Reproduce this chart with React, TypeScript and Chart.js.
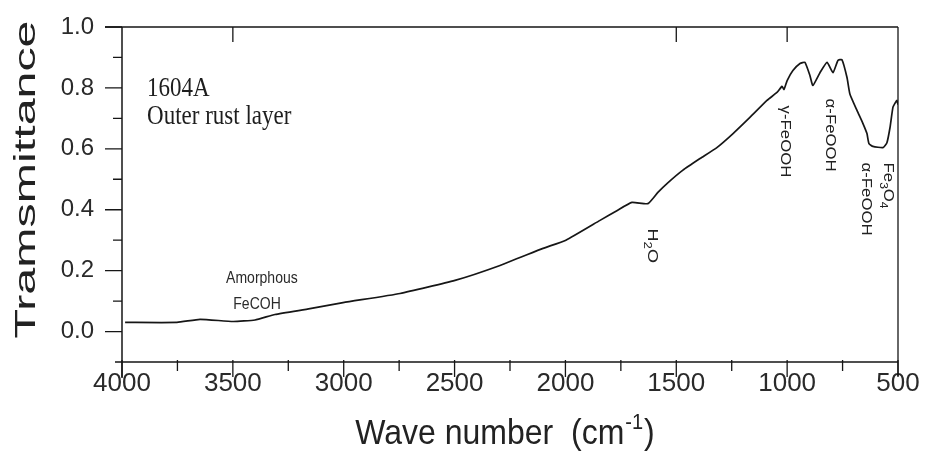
import React, { useEffect, useRef } from "react";
import { Chart, registerables } from "chart.js";

Chart.register(...registerables);

// ---- data ----
const wavenumbers = [
  3986, 3752, 3648, 3499, 3400, 3310, 3152, 3003, 2746, 2498, 2295, 2101, 1998,
  1844, 1768, 1700, 1628, 1583, 1542, 1470, 1393, 1317, 1244, 1168, 1091, 1046,
  1023, 1014, 1000, 974, 942, 920, 897, 884, 852, 820, 793, 771, 753, 730, 717,
  685, 658, 640, 631, 613, 568, 550, 536, 523, 514, 505, 500,
];
const transmittance = [
  0.03, 0.03, 0.04, 0.033, 0.038, 0.056, 0.075, 0.095, 0.125, 0.168, 0.217, 0.273, 0.3,
  0.365, 0.397, 0.424, 0.42, 0.457, 0.486, 0.53, 0.568, 0.604, 0.65, 0.703, 0.759, 0.785,
  0.805, 0.795, 0.824, 0.857, 0.88, 0.884, 0.84, 0.808, 0.85, 0.884, 0.85, 0.89, 0.893, 0.834, 0.78,
  0.726, 0.683, 0.65, 0.617, 0.608, 0.604, 0.62, 0.67, 0.736, 0.749, 0.759, 0.745,
];

const xTickValues = [4000, 3500, 3000, 2500, 2000, 1500, 1000, 500];
const xMinorValues = [3750, 3250, 2750, 2250, 1750, 1250, 750];
const yTickValues = [0, 0.2, 0.4, 0.6, 0.8, 1.0];
const yMinorValues = [0.1, 0.3, 0.5, 0.7, 0.9];
const topTickValues = [3500, 1500, 1000];

const yTitle = "Tramsmittance";
const xTitleMain = "Wave number  (cm";
const xTitleSup = "-1";
const xTitleEnd = ")";
const sampleLines = ["1604A", "Outer rust layer"];
const amorphousLines = ["Amorphous", "FeCOH"];

type Part = { t: string; sub?: boolean };
const bandLabels: { parts: Part[]; wn: number; top: number; size: number }[] = [
  { parts: [{ t: "γ-FeOOH" }], wn: 1010, top: 0.742, size: 14 },
  { parts: [{ t: "α-FeOOH" }], wn: 807, top: 0.765, size: 14 },
  { parts: [{ t: "Fe" }, { t: "3", sub: true }, { t: "O" }, { t: "4", sub: true }], wn: 545, top: 0.555, size: 14 },
  { parts: [{ t: "α-FeOOH" }], wn: 645, top: 0.555, size: 14 },
  { parts: [{ t: "H" }, { t: "2", sub: true }, { t: "O" }], wn: 1610, top: 0.338, size: 15 },
];

const SANS = '"Liberation Sans", Arial, sans-serif';
const SERIF = '"Liberation Serif", "Times New Roman", serif';
const INK = "#161616";

const decorPlugin = {
  id: "decor",
  afterDraw(chart: any) {
    const ctx: CanvasRenderingContext2D = chart.ctx;
    const xs = chart.scales.x;
    const ys = chart.scales.y;
    const ca = chart.chartArea;
    ctx.save();
    ctx.strokeStyle = INK;
    ctx.fillStyle = INK;
    ctx.lineWidth = 1.5;
    ctx.lineCap = "butt";

    // frame
    ctx.beginPath();
    ctx.moveTo(ca.left - 17, ca.top);
    ctx.lineTo(ca.right, ca.top);
    ctx.moveTo(ca.left, ca.top);
    ctx.lineTo(ca.left, ca.bottom + 16);
    ctx.moveTo(ca.left - 7, ca.bottom);
    ctx.lineTo(ca.right, ca.bottom);
    ctx.stroke();
    ctx.lineWidth = 1.3;
    ctx.beginPath();
    ctx.moveTo(ca.right, ca.top);
    ctx.lineTo(ca.right, ca.bottom + 14);
    ctx.stroke();

    // ticks
    ctx.lineWidth = 1.3;
    ctx.beginPath();
    for (const v of xTickValues) {
      const px = xs.getPixelForValue(v);
      ctx.moveTo(px, ca.bottom - 2);
      ctx.lineTo(px, ca.bottom + 15);
    }
    for (const v of xMinorValues) {
      const px = xs.getPixelForValue(v);
      ctx.moveTo(px, ca.bottom - 2);
      ctx.lineTo(px, ca.bottom + 9);
    }
    for (const v of topTickValues) {
      const px = xs.getPixelForValue(v);
      ctx.moveTo(px, ca.top);
      ctx.lineTo(px, ca.top + 15);
    }
    for (const v of yTickValues) {
      const py = ys.getPixelForValue(v);
      ctx.moveTo(ca.left - 17, py);
      ctx.lineTo(ca.left, py);
    }
    for (const v of yMinorValues) {
      const py = ys.getPixelForValue(v);
      ctx.moveTo(ca.left - 9, py);
      ctx.lineTo(ca.left, py);
    }
    ctx.stroke();

    // y title (stretched along its length like the scan)
    ctx.save();
    ctx.font = `30px ${SANS}`;
    const yw = ctx.measureText(yTitle).width;
    const ylen = 318;
    ctx.translate(35, (ca.top + ca.bottom) / 2 - 15);
    ctx.scale(1, ylen / yw);
    ctx.rotate(-Math.PI / 2);
    ctx.textAlign = "center";
    ctx.textBaseline = "alphabetic";
    ctx.fillStyle = "#222";
    ctx.fillText(yTitle, 0, 0);
    ctx.restore();

    // x title with superscript
    ctx.save();
    ctx.fillStyle = "#222";
    ctx.font = `32px ${SANS}`;
    const w1 = ctx.measureText(xTitleMain).width;
    const w3 = ctx.measureText(xTitleEnd).width;
    ctx.font = `20px ${SANS}`;
    const w2 = ctx.measureText(xTitleSup).width;
    const total = w1 + w2 + w3 + 2;
    const cx = (ca.left + ca.right) / 2 - 5;
    ctx.translate(cx - total / 2, 444);
    ctx.scale(1, 1.1);
    ctx.textBaseline = "alphabetic";
    ctx.textAlign = "left";
    ctx.font = `32px ${SANS}`;
    ctx.fillText(xTitleMain, 0, 0);
    ctx.font = `20px ${SANS}`;
    ctx.fillText(xTitleSup, w1 + 1, -14);
    ctx.font = `32px ${SANS}`;
    ctx.fillText(xTitleEnd, w1 + w2 + 2, 0);
    ctx.restore();

    // sample name (serif)
    ctx.save();
    ctx.fillStyle = "#1e1e1e";
    ctx.font = `23px ${SERIF}`;
    ctx.textAlign = "left";
    ctx.textBaseline = "alphabetic";
    const sx = xs.getPixelForValue(3887);
    [0.775, 0.683].forEach((t, i) => {
      ctx.save();
      ctx.translate(sx, ys.getPixelForValue(t));
      ctx.scale(1, 1.2);
      ctx.fillText(sampleLines[i], 0, 0);
      ctx.restore();
    });
    ctx.restore();

    // amorphous label
    ctx.save();
    ctx.fillStyle = "#2a2a2a";
    ctx.font = `14px ${SANS}`;
    ctx.textAlign = "center";
    ctx.textBaseline = "middle";
    [
      [3369, 0.174],
      [3391, 0.089],
    ].forEach(([wn, t], i) => {
      ctx.save();
      ctx.translate(xs.getPixelForValue(wn), ys.getPixelForValue(t));
      ctx.scale(1, 1.2);
      ctx.fillText(amorphousLines[i], 0, 0);
      ctx.restore();
    });
    ctx.restore();

    // rotated band labels
    for (const b of bandLabels) {
      ctx.save();
      ctx.fillStyle = "#222";
      ctx.translate(xs.getPixelForValue(b.wn), ys.getPixelForValue(b.top));
      ctx.scale(1, 1.2);
      ctx.rotate(Math.PI / 2);
      ctx.textAlign = "left";
      ctx.textBaseline = "middle";
      let off = 0;
      for (const p of b.parts) {
        const size = p.sub ? Math.round(b.size * 0.7) : b.size;
        ctx.font = `${size}px ${SANS}`;
        ctx.fillText(p.t, off, p.sub ? 5 : 0);
        off += ctx.measureText(p.t).width;
      }
      ctx.restore();
    }

    ctx.restore();
  },
};

export default function App() {
  const ref = useRef<HTMLCanvasElement | null>(null);

  useEffect(() => {
    if (!ref.current) return;
    const chart = new Chart(ref.current, {
      type: "line",
      data: {
        datasets: [
          {
            data: wavenumbers.map((w, i) => ({ x: w, y: transmittance[i] })),
            borderColor: INK,
            borderWidth: 1.7,
            pointRadius: 0,
            tension: 0.15,
            fill: false,
          },
        ],
      },
      options: {
        responsive: false,
        animation: false,
        devicePixelRatio: 1,
        layout: { padding: { top: 27, right: 27, left: 0, bottom: 0 } },
        plugins: {
          legend: { display: false },
          tooltip: { enabled: false },
          title: { display: false },
        },
        scales: {
          x: {
            type: "linear",
            reverse: true,
            min: 500,
            max: 4000,
            grid: { display: false },
            border: { display: false },
            afterBuildTicks: (s: any) => {
              s.ticks = xTickValues.map((v) => ({ value: v }));
            },
            afterFit: (s: any) => {
              s.height = 104;
            },
            ticks: {
              font: { family: SANS, size: 26 },
              color: "#2a2a2a",
              padding: -2,
              maxRotation: 0,
              autoSkip: false,
              callback: (v: any) => String(v),
            },
          },
          y: {
            type: "linear",
            min: -0.1,
            max: 1.0,
            grid: { display: false },
            border: { display: false },
            afterBuildTicks: (s: any) => {
              s.ticks = yTickValues.map((v) => ({ value: v }));
            },
            afterFit: (s: any) => {
              s.width = 122;
            },
            ticks: {
              font: { family: SANS, size: 24, lineHeight: 0.5 },
              color: "#2a2a2a",
              padding: 20,
              callback: (v: any) => Number(v).toFixed(1),
            },
          },
        },
      },
      plugins: [decorPlugin],
    } as any);
    return () => chart.destroy();
  }, []);

  return (
    <div style={{ position: "absolute", left: 0, top: 0, width: 925, height: 466, background: "#fff" }}>
      <canvas ref={ref} width={925} height={466} style={{ display: "block" }} />
    </div>
  );
}
